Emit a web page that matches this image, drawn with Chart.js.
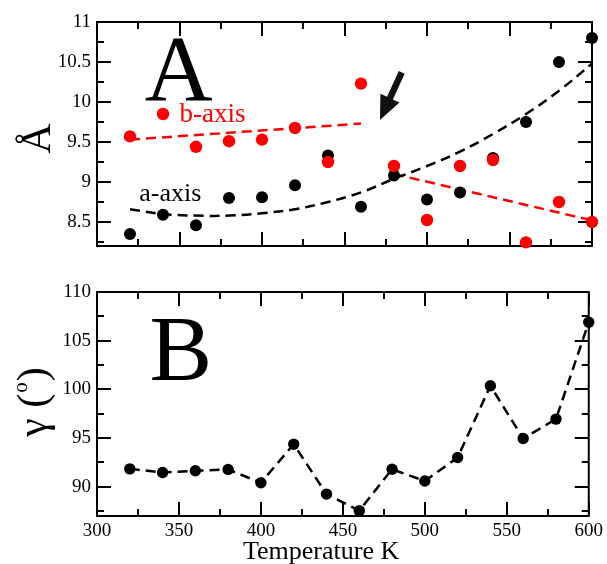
<!DOCTYPE html>
<html><head><meta charset="utf-8">
<script src="https://cdn.jsdelivr.net/npm/chart.js@4/dist/chart.umd.min.js"></script>
<style>
html,body{margin:0;padding:0;background:#fff;}
#wrap{position:relative;width:607px;height:564px;overflow:hidden;}
#c1{position:absolute;left:0;top:0;}
#c2{position:absolute;left:0;top:270px;}
</style></head><body>
<div id="wrap">
<canvas id="c1" width="607" height="270"></canvas>
<canvas id="c2" width="607" height="294"></canvas>
</div>
<script>
// ---------- data ----------
const temperatures = [320,340,360,380,400,420,440,460,480,500,520,540,560,580,600];
const aAxis = [8.35,8.59,8.46,8.80,8.81,8.96,9.33,8.69,9.08,8.78,8.87,9.30,9.75,10.50,10.80];
const bAxis = [9.57,9.85,9.44,9.51,9.53,9.675,9.25,10.23,9.20,8.525,9.20,9.275,8.245,8.75,8.50];
const aFitT = [320,340,360,380,400,420,440,460,480,500,520,540,560,580,600];
const aFit  = [8.66,8.60,8.58,8.58,8.61,8.66,8.75,8.87,9.04,9.20,9.38,9.60,9.85,10.14,10.48];
const bFit1T = [320,460];
const bFit1  = [9.53,9.73];
const bFit2T = [480,600];
const bFit2  = [9.10,8.52];
const gamma = [91.84,91.47,91.64,91.78,90.41,94.37,89.25,87.55,91.80,90.60,93.00,100.37,94.95,96.95,106.9];
const xTicks = [300,350,400,450,500,550,600];
const yTicksA = [8.5,9,9.5,10,10.5,11];
const yTicksB = [90,95,100,105,110];

const FONT = "'Liberation Serif','Times New Roman',serif";
const pts = (xs, ys) => xs.map((x,i)=>({x, y: ys[i]}));

function framePlugin(xStep, yStep){
  return {
    id:'frame',
    beforeDatasetsDraw(chart){
      const {ctx, chartArea:{left,right,top,bottom}, scales:{x,y}} = chart;
      ctx.save();
      ctx.strokeStyle='#000'; ctx.lineWidth=2; ctx.lineCap='butt';
      const isMajor = (arr,v)=>arr.some(m=>Math.abs(m-v)<1e-6);
      const xMaj = chart.options.scales.x._major, yMaj = chart.options.scales.y._major;
      ctx.beginPath();
      for(let v=x.min; v<=x.max+1e-9; v+=xStep){
        const px = Math.round(x.getPixelForValue(v));
        const len = isMajor(xMaj,v)?14:7;
        ctx.moveTo(px,bottom); ctx.lineTo(px,bottom-len);
        ctx.moveTo(px,top); ctx.lineTo(px,top+len);
      }
      const y0 = Math.ceil(y.min/yStep-1e-9)*yStep;
      for(let v=y0; v<=y.max+1e-9; v+=yStep){
        const py = Math.round(y.getPixelForValue(v));
        const len = isMajor(yMaj,v)?14:7;
        ctx.moveTo(left,py); ctx.lineTo(left+len,py);
        ctx.moveTo(right,py); ctx.lineTo(right-len,py);
      }
      ctx.stroke();
      ctx.strokeRect(left,top,right-left,bottom-top);
      ctx.restore();
    }
  };
}

const arrowFrom = {x:484.7, y:10.37};
const arrowTo = {x:471.5, y:9.775};

const annotA = {
  id:'annotA',
  afterDatasetsDraw(chart){
    const {ctx, scales:{x,y}} = chart;
    ctx.save();
    ctx.fillStyle='#000';
    ctx.textBaseline='alphabetic'; ctx.textAlign='left';
    ctx.font = `94px ${FONT}`;
    ctx.fillText('A', x.getPixelForValue(329), y.getPixelForValue(10.025));
    ctx.fillStyle='#ff0000';
    ctx.font = `27px ${FONT}`;
    ctx.fillText('b-axis', x.getPixelForValue(350), y.getPixelForValue(9.754));
    ctx.fillStyle='#000';
    ctx.font = `26px ${FONT}`;
    ctx.fillText('a-axis', x.getPixelForValue(325.6), y.getPixelForValue(8.76));
    // arrow
    const tx=x.getPixelForValue(arrowFrom.x), ty=y.getPixelForValue(arrowFrom.y);
    const hx=x.getPixelForValue(arrowTo.x), hy=y.getPixelForValue(arrowTo.y);
    const dx=hx-tx, dy=hy-ty, L=Math.hypot(dx,dy), ux=dx/L, uy=dy/L, nx=-uy, ny=ux;
    const sw=3.2, hw=10.5, hl=24;
    const nxp=hx-ux*hl, nyp=hy-uy*hl;
    ctx.fillStyle='#111';
    ctx.beginPath();
    ctx.moveTo(tx+nx*sw, ty+ny*sw);
    ctx.lineTo(nxp+nx*sw, nyp+ny*sw);
    ctx.lineTo(nxp+nx*hw, nyp+ny*hw);
    ctx.lineTo(hx,hy);
    ctx.lineTo(nxp-nx*hw, nyp-ny*hw);
    ctx.lineTo(nxp-nx*sw, nyp-ny*sw);
    ctx.lineTo(tx-nx*sw, ty-ny*sw);
    ctx.closePath(); ctx.fill();
    // y title
    ctx.fillStyle='#000';
    ctx.translate(50,138.5); ctx.rotate(-Math.PI/2);
    ctx.textAlign='center';
    ctx.font = `42px ${FONT}`;
    ctx.fillText('Å',0,0);
    ctx.restore();
  }
};

const annotB = {
  id:'annotB',
  afterDatasetsDraw(chart){
    const {ctx, chartArea, scales:{x,y}} = chart;
    ctx.save();
    ctx.fillStyle='#000';
    ctx.textBaseline='alphabetic'; ctx.textAlign='left';
    ctx.font = `94px ${FONT}`;
    ctx.fillText('B', x.getPixelForValue(332), y.getPixelForValue(100.97));
    // x title
    ctx.font = `26px ${FONT}`;
    ctx.textAlign='center';
    ctx.fillText('Temperature K', x.getPixelForValue(436.7), 289);
    // y title  γ (o)
    ctx.translate(46,132); ctx.rotate(-Math.PI/2);
    ctx.textAlign='left';
    const big = `42px ${FONT}`, small = `21px ${FONT}`;
    ctx.font=big; const w1=ctx.measureText('γ (').width, w3=ctx.measureText(')').width;
    ctx.font=small; const w2=ctx.measureText('o').width;
    const total=w1+w2+w3+2;
    let cx=-total/2;
    ctx.font=big; ctx.fillText('γ (',cx,0); cx+=w1+1;
    ctx.font=small; ctx.fillText('o',cx,-19); cx+=w2+1;
    ctx.font=big; ctx.fillText(')',cx,0);
    ctx.restore();
  }
};

const tickFont = {family:FONT, size:19};

// ---------- chart A ----------
new Chart(document.getElementById('c1'), {
  type:'scatter',
  data:{datasets:[
    {data:pts(temperatures,bAxis), backgroundColor:'#ff0000', borderColor:'#ff0000', pointRadius:6.2, pointBorderWidth:0, showLine:false, clip:false},
    {data:pts(temperatures,aAxis), backgroundColor:'#000', borderColor:'#000', pointRadius:6, pointBorderWidth:0, showLine:false, clip:false},
    {data:pts(aFitT,aFit), showLine:true, borderColor:'#000', borderWidth:2.5, borderDash:[10,6], pointRadius:0, tension:0.4, fill:false},
    {data:pts(bFit1T,bFit1), showLine:true, borderColor:'#ff0000', borderWidth:2.5, borderDash:[10,6], pointRadius:0, fill:false},
    {data:pts(bFit2T,bFit2), showLine:true, borderColor:'#ff0000', borderWidth:2.5, borderDash:[10,6], pointRadius:0, fill:false}
  ]},
  options:{
    responsive:false, animation:false, devicePixelRatio:1,
    layout:{padding:{left:0,top:22,right:15,bottom:24}},
    plugins:{legend:{display:false}, tooltip:{enabled:false}},
    scales:{
      x:{type:'linear', min:300, max:600, display:false, _major:xTicks},
      y:{type:'linear', min:8.2, max:11, _major:yTicksA,
         afterBuildTicks:s=>{s.ticks=yTicksA.map(v=>({value:v}));},
         afterFit:s=>{s.width=97;},
         grid:{display:false, drawTicks:false}, border:{display:false},
         ticks:{color:'#000', font:tickFont, padding:6, callback:v=>String(v)}}
    }
  },
  plugins:[framePlugin(25,0.25), annotA]
});

// ---------- chart B ----------
new Chart(document.getElementById('c2'), {
  type:'scatter',
  data:{datasets:[
    {data:pts(temperatures,gamma), showLine:true, borderColor:'#000', backgroundColor:'#000', borderWidth:2.5, borderDash:[10,6], pointRadius:5.7, pointBorderWidth:0, fill:false, clip:false}
  ]},
  options:{
    responsive:false, animation:false, devicePixelRatio:1,
    layout:{padding:{left:0,top:22,right:15,bottom:0}},
    plugins:{legend:{display:false}, tooltip:{enabled:false}},
    scales:{
      x:{type:'linear', min:300, max:600, _major:xTicks,
         afterBuildTicks:s=>{s.ticks=xTicks.map(v=>({value:v}));},
         afterFit:s=>{s.height=48;},
         grid:{display:false, drawTicks:false}, border:{display:false},
         ticks:{color:'#000', font:tickFont, padding:4, maxRotation:0, autoSkip:false}},
      y:{type:'linear', min:87, max:110, _major:yTicksB,
         afterBuildTicks:s=>{s.ticks=yTicksB.map(v=>({value:v}));},
         afterFit:s=>{s.width=97;},
         grid:{display:false, drawTicks:false}, border:{display:false},
         ticks:{color:'#000', font:tickFont, padding:6}}
    }
  },
  plugins:[framePlugin(25,2.5), annotB]
});
</script>
</body></html>
